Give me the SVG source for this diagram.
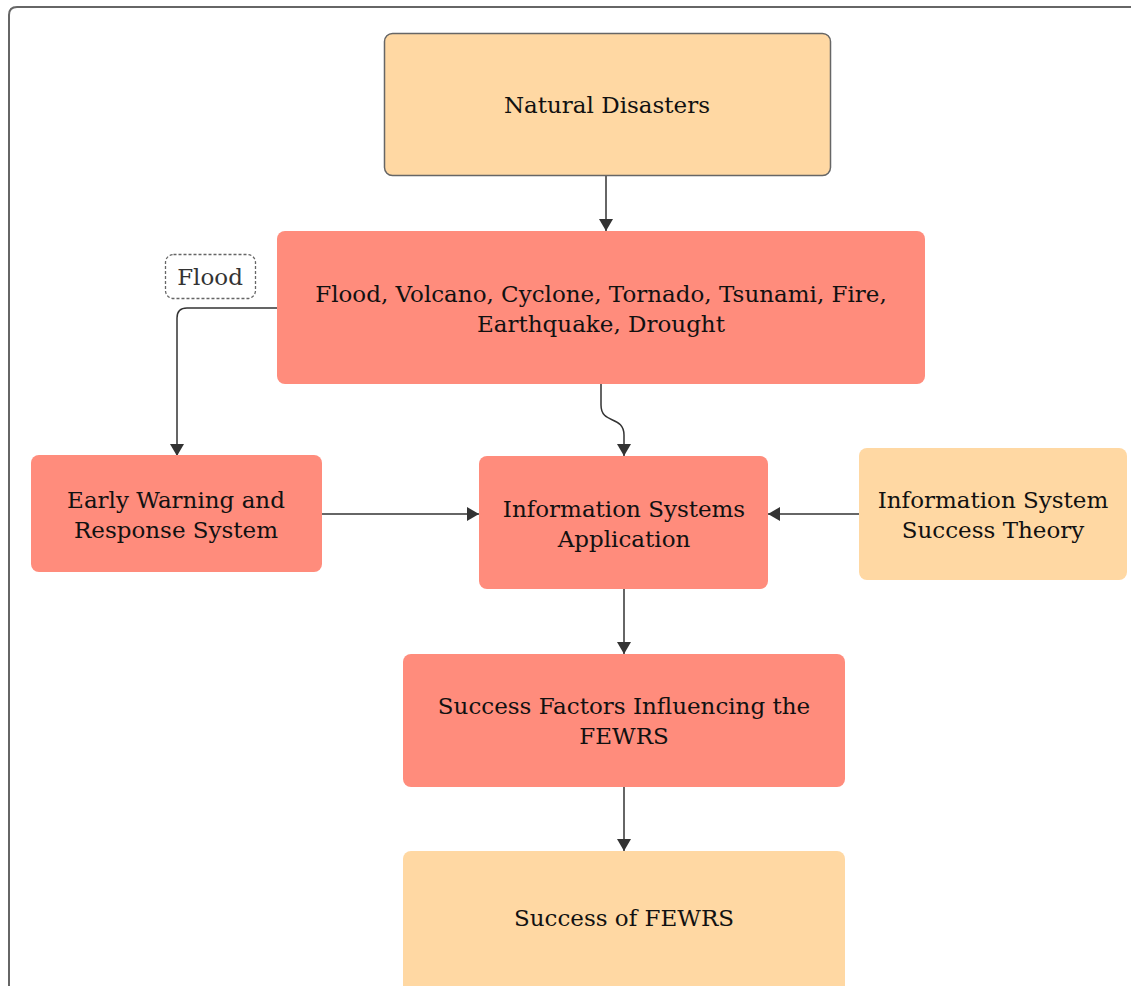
<svg xmlns="http://www.w3.org/2000/svg" width="1131" height="986" viewBox="0 0 1131 986">
<defs>
<marker id="arr" viewBox="0 0 12 14" refX="12" refY="7" markerWidth="12" markerHeight="14" markerUnits="userSpaceOnUse" orient="auto">
<path d="M0,0 L12,7 L0,14 z" fill="#333"/>
</marker>
<style>
.t{font-family:"DejaVu Serif","Liberation Serif",serif;font-size:23px;fill:#111;text-anchor:middle}
.red{fill:#FF8C7C}
.peach{fill:#FFD8A3}
.c{fill:none;stroke:#333;stroke-width:1.5}
</style>
</defs>
<rect width="1131" height="986" fill="#fff"/>
<path d="M9,1000 L9,15 Q9,7 17,7 L1140,7" fill="none" stroke="#666" stroke-width="2"/>
<g id="connectors">
<path class="c" d="M606,176 L606,231" marker-end="url(#arr)"/>
<path class="c" d="M277,308 L187,308 Q177,308 177,318 L177,456" marker-end="url(#arr)"/>
<path class="c" d="M601,384 L601,405 C601,425 624,415 624,435 L624,456" marker-end="url(#arr)"/>
<path class="c" d="M322,514 L479,514" marker-end="url(#arr)"/>
<path class="c" d="M859,514 L768,514" marker-end="url(#arr)"/>
<path class="c" d="M624,589 L624,654" marker-end="url(#arr)"/>
<path class="c" d="M624,787 L624,851" marker-end="url(#arr)"/>
</g>
<g id="natural">
<rect x="384.5" y="33.5" width="446" height="142" rx="8" class="peach" stroke="#666" stroke-width="1.5"/>
<text class="t" x="607" y="113">Natural Disasters</text>
</g>
<g id="types">
<rect x="277" y="231" width="648" height="153" rx="8" class="red"/>
<text class="t" x="601" y="302">Flood, Volcano, Cyclone, Tornado, Tsunami, Fire,</text>
<text class="t" x="601" y="332">Earthquake, Drought</text>
</g>
<g id="floodlabel">
<rect x="165.5" y="254.5" width="90" height="44" rx="8" fill="#fff" stroke="#666" stroke-width="1.3" stroke-dasharray="3,2"/>
<text class="t" x="210" y="285" style="fill:#333">Flood</text>
</g>
<g id="ews">
<rect x="31" y="455" width="291" height="117" rx="8" class="red"/>
<text class="t" x="176" y="508">Early Warning and</text>
<text class="t" x="176" y="538">Response System</text>
</g>
<g id="isa">
<rect x="479" y="456" width="289" height="133" rx="8" class="red"/>
<text class="t" x="624" y="517">Information Systems</text>
<text class="t" x="624" y="547">Application</text>
</g>
<g id="ist">
<rect x="859" y="448" width="268" height="132" rx="8" class="peach"/>
<text class="t" x="993" y="508">Information System</text>
<text class="t" x="993" y="538">Success Theory</text>
</g>
<g id="sf">
<rect x="403" y="654" width="442" height="133" rx="8" class="red"/>
<text class="t" x="624" y="714">Success Factors Influencing the</text>
<text class="t" x="624" y="744">FEWRS</text>
</g>
<g id="success">
<rect x="403" y="851" width="442" height="145" rx="8" class="peach"/>
<text class="t" x="624" y="926">Success of FEWRS</text>
</g>
</svg>
